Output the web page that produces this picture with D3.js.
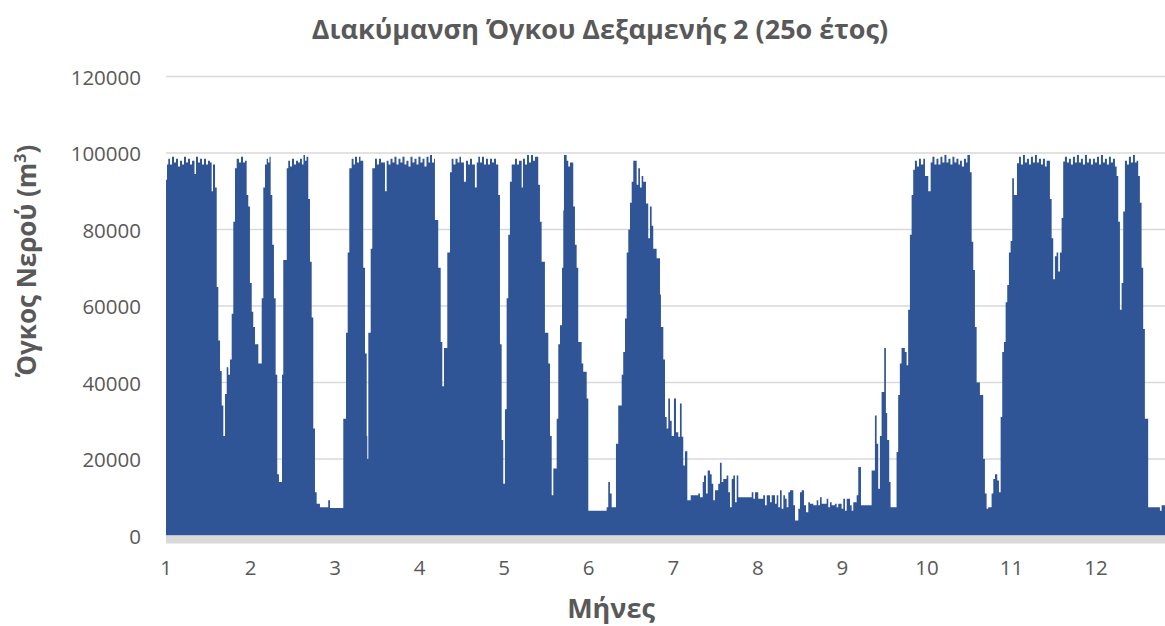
<!DOCTYPE html>
<html>
<head>
<meta charset="utf-8">
<script src="https://cdn.jsdelivr.net/npm/d3@7"></script>
<style>
  html, body { margin: 0; padding: 0; background: #ffffff; }
  svg { display: block; }
  text { font-family: "Open Sans", "Noto Sans", sans-serif; fill: #595959; }
</style>
</head>
<body>
<svg id="chart" width="1165" height="626"></svg>
<script>
// Tank 2 water volume through year 25: upper envelope of the hourly series,
// sampled as break points (month, volume in m³), drawn as a stepped area.
const monthPos = [
  1.000,1.012,1.027,1.047,1.071,1.095,1.118,1.142,1.166,1.189,1.213,1.237,1.260,1.284,1.308,1.337,1.355,1.378,1.402,1.426,
  1.449,1.473,1.497,1.520,1.540,1.556,1.580,1.600,1.619,1.639,1.659,1.678,1.698,1.718,1.737,1.757,1.777,1.796,1.816,1.836,
  1.863,1.887,1.911,1.934,1.954,1.973,1.993,2.014,2.032,2.053,2.092,2.132,2.151,2.171,2.191,2.206,2.224,2.238,2.257,2.277,
  2.297,2.316,2.336,2.372,2.387,2.428,2.446,2.467,2.490,2.514,2.538,2.561,2.585,2.608,2.626,2.644,2.662,2.683,2.703,2.723,
  2.742,2.762,2.782,2.821,2.919,2.940,3.097,3.129,3.149,3.168,3.196,3.218,3.235,3.259,3.283,3.300,3.333,3.354,3.374,3.381,
  3.393,3.421,3.440,3.472,3.495,3.519,3.543,3.590,3.610,3.632,3.655,3.679,3.702,3.726,3.750,3.773,3.797,3.821,3.844,3.868,
  3.892,3.915,3.939,3.963,3.986,4.010,4.034,4.057,4.081,4.105,4.122,4.146,4.170,4.181,4.220,4.249,4.268,4.288,4.327,4.359,
  4.379,4.400,4.424,4.448,4.471,4.489,4.524,4.548,4.572,4.595,4.619,4.654,4.675,4.694,4.714,4.737,4.761,4.785,4.808,4.832,
  4.856,4.879,4.903,4.930,4.950,4.970,4.989,5.009,5.029,5.048,5.068,5.089,5.128,5.151,5.175,5.207,5.222,5.246,5.270,5.293,
  5.317,5.341,5.364,5.403,5.423,5.443,5.482,5.522,5.542,5.562,5.581,5.621,5.640,5.660,5.684,5.699,5.707,5.739,5.758,5.778,
  5.817,5.837,5.857,5.876,5.916,5.935,5.976,5.995,6.212,6.231,6.251,6.271,6.322,6.349,6.390,6.408,6.429,6.449,6.468,6.488,
  6.508,6.527,6.567,6.586,6.606,6.626,6.645,6.677,6.704,6.724,6.744,6.763,6.803,6.843,6.854,6.882,6.902,6.922,6.941,6.961,
  6.981,7.008,7.032,7.059,7.079,7.099,7.118,7.138,7.166,7.206,7.296,7.316,7.348,7.363,7.387,7.407,7.434,7.454,7.473,7.493,
  7.532,7.552,7.572,7.591,7.631,7.651,7.671,7.691,7.710,7.730,7.750,7.769,7.928,7.947,7.967,8.005,8.064,8.085,8.105,8.144,
  8.164,8.203,8.223,8.242,8.262,8.282,8.302,8.322,8.341,8.361,8.381,8.420,8.440,8.479,8.499,8.519,8.546,8.570,8.597,8.617,
  8.656,8.696,8.715,8.735,8.755,8.814,8.833,8.853,8.873,8.912,8.932,8.951,8.991,9.011,9.031,9.051,9.090,9.110,9.129,9.169,
  9.188,9.220,9.346,9.385,9.405,9.424,9.444,9.464,9.495,9.515,9.530,9.554,9.570,9.641,9.660,9.680,9.700,9.739,9.760,9.778,
  9.799,9.819,9.838,9.858,9.882,9.906,9.929,9.957,9.977,10.016,10.044,10.065,10.089,10.113,10.136,10.160,10.183,10.207,10.231,10.254,
  10.278,10.302,10.325,10.349,10.373,10.391,10.414,10.438,10.462,10.479,10.509,10.529,10.548,10.568,10.588,10.627,10.666,10.686,10.706,10.725,
  10.765,10.785,10.805,10.832,10.852,10.872,10.891,10.911,10.931,10.950,10.970,10.990,11.009,11.029,11.065,11.089,11.112,11.136,11.159,11.183,
  11.207,11.230,11.254,11.278,11.301,11.325,11.349,11.372,11.396,11.416,11.455,11.475,11.494,11.514,11.534,11.553,11.573,11.593,11.612,11.632,
  11.656,11.680,11.703,11.727,11.751,11.774,11.798,11.822,11.845,11.869,11.893,11.916,11.940,11.964,11.987,12.011,12.035,12.058,12.082,12.105,
  12.129,12.153,12.176,12.200,12.224,12.244,12.263,12.283,12.303,12.322,12.342,12.366,12.389,12.413,12.437,12.460,12.480,12.499,12.519,12.539,
  12.558,12.578,12.617,12.756,12.776,12.816
];
const volume = [
  93000,97000,98500,97000,99000,97500,98500,96500,98000,97000,99000,97500,98500,97000,98000,94500,99000,97500,98500,97000,
  98500,97000,98000,97500,90000,97000,91000,65000,51000,43000,34000,26000,37000,44000,42000,46000,58000,82000,96000,98500,
  97500,99000,97500,98000,89000,86000,66000,58500,54500,50000,45000,62000,91000,97000,98500,97500,99000,89000,76000,62000,
  42000,16000,14000,42000,72000,96000,98000,96500,98500,97000,98000,97500,98500,97000,99500,98000,99000,88000,71600,57000,
  28000,11300,8300,7400,9200,7200,30500,53000,74000,96000,98500,97000,99000,97500,99000,98000,70000,47600,26000,20000,
  53000,75000,96000,98500,97000,98500,97500,90000,98000,97000,98500,97500,99000,97000,98500,97500,99000,97000,98000,96500,
  99000,97500,98500,97000,99000,97500,98500,96500,99000,97500,99500,97500,98500,82500,70000,50600,39000,49000,74000,95000,
  98500,97000,98500,97500,99000,97500,92500,98000,97000,98500,97000,91000,97500,99000,97500,99000,97000,98500,97000,98500,
  97500,98500,97000,89000,50000,25000,13500,33000,62000,78600,92500,97000,98500,97000,98000,91000,98500,97000,99500,97500,
  99500,98000,99000,91700,82000,71600,53000,45000,26000,10500,17500,30500,50000,55000,70000,85000,99500,98000,96500,97500,
  86000,76000,70000,50600,45000,42800,35800,6500,7400,14000,11000,7400,24000,34000,42000,48000,56700,74000,80000,87000,
  92500,98000,91700,96000,91000,94000,92500,86800,77700,86000,81000,75000,72500,63000,54500,46000,31000,28000,35800,30000,
  26000,35800,27000,25800,34500,25800,18300,22000,9200,10500,11000,10000,14000,15700,11000,17000,16000,13500,9200,11800,
  13500,19000,14000,14800,15700,11300,7400,14800,15700,8700,15700,10000,11300,9600,11300,9600,10500,7900,10500,8700,
  10500,8300,10500,7400,11800,7000,10500,9600,7400,11300,11800,7900,3900,7000,11300,11800,7900,6100,8700,8300,
  7900,9200,7900,10000,8300,9600,7400,8700,7900,8300,7400,8300,7000,9600,6500,9600,7900,6500,8700,10500,
  17900,7900,17000,31400,24000,12200,26000,37500,49000,32000,25000,14000,7400,21800,36700,45000,49000,48000,44500,59000,
  78600,89000,95600,98000,96500,98500,97000,98500,94000,90000,97500,99000,97000,98500,97000,99000,97500,99500,97500,98500,
  97000,99000,97500,98500,97000,98000,96500,98500,97500,99500,95000,76800,69400,54500,40000,36700,20000,11000,7000,7400,
  11000,14800,16000,14400,11300,31000,48000,50600,61000,65500,74000,77000,93400,89000,97300,99000,97000,99500,97500,98500,
  97000,99000,97500,99500,97500,98500,97000,98500,96500,98000,88000,77700,67000,73000,74000,69000,74000,83000,97800,99000,
  97500,98500,97000,99000,97500,99500,97500,98500,97000,99500,97500,98500,97000,98500,97500,99000,97000,99500,97500,98500,
  97000,99000,97500,98500,96500,94000,82000,59000,66000,84700,98000,97000,99000,97500,99500,97500,98000,94000,87000,70000,
  54000,30500,7400,6500,7900,7900
];
const monthTicks = [1,2,3,4,5,6,7,8,9,10,11,12];
const volumeTicks = [0,20000,40000,60000,80000,100000,120000];

const titleText = "Διακύμανση Όγκου Δεξαμενής 2 (25ο έτος)";
const xTitle = "Μήνες";

const svg = d3.select("#chart");
const W = 1165, H = 626;
const plot = { left: 166, right: 1165, top: 76.5, bottom: 535.5 };

const x = d3.scaleLinear().domain([1, 12.816]).range([plot.left, plot.right]);
const y = d3.scaleLinear().domain([0, 120000]).range([plot.bottom, plot.top]);

svg.append("rect").attr("width", W).attr("height", H).attr("fill", "#ffffff");

// horizontal gridlines
svg.append("g").selectAll("line")
  .data(volumeTicks.filter(d => d > 0))
  .join("line")
  .attr("x1", plot.left).attr("x2", plot.right)
  .attr("y1", d => y(d)).attr("y2", d => y(d))
  .attr("stroke", "#d9d9d9").attr("stroke-width", 1.3);

// volume area
const series = monthPos.map((m, i) => ({ m, v: volume[i] }));
const area = d3.area()
  .x(d => x(d.m))
  .y0(y(0))
  .y1(d => y(d.v))
  .curve(d3.curveStepAfter);

svg.append("path")
  .datum(series)
  .attr("d", area)
  .attr("fill", "#2f5597");

// base axis band
svg.append("rect")
  .attr("x", plot.left).attr("y", y(0))
  .attr("width", plot.right - plot.left).attr("height", 8)
  .attr("fill", "#d9d9d9");

// y tick labels
svg.append("g").selectAll("text")
  .data(volumeTicks)
  .join("text")
  .attr("x", 141).attr("y", d => y(d))
  .attr("text-anchor", "end")
  .attr("dominant-baseline", "central")
  .style("font-size", "20.5px")
  .text(d => d);

// x tick labels
svg.append("g").selectAll("text")
  .data(monthTicks)
  .join("text")
  .attr("x", d => x(d)).attr("y", 575)
  .attr("text-anchor", "middle")
  .style("font-size", "20.5px")
  .text(d => d);

// chart title
svg.append("text")
  .attr("x", 600).attr("y", 39)
  .attr("text-anchor", "middle")
  .style("font-size", "27px").style("font-weight", "bold")
  .text(titleText);

// x axis title
svg.append("text")
  .attr("x", 611).attr("y", 618)
  .attr("text-anchor", "middle")
  .style("font-size", "27px").style("font-weight", "bold")
  .text(xTitle);

// y axis title with superscript unit
const yt = svg.append("text")
  .attr("transform", "translate(36,261) rotate(-90)")
  .attr("text-anchor", "middle")
  .style("font-size", "26px").style("font-weight", "bold");
yt.append("tspan").text("Όγκος Νερού (m");
yt.append("tspan").attr("dy", -10).style("font-size", "16px").text("3");
yt.append("tspan").attr("dy", 10).text(")");
</script>
</body>
</html>
